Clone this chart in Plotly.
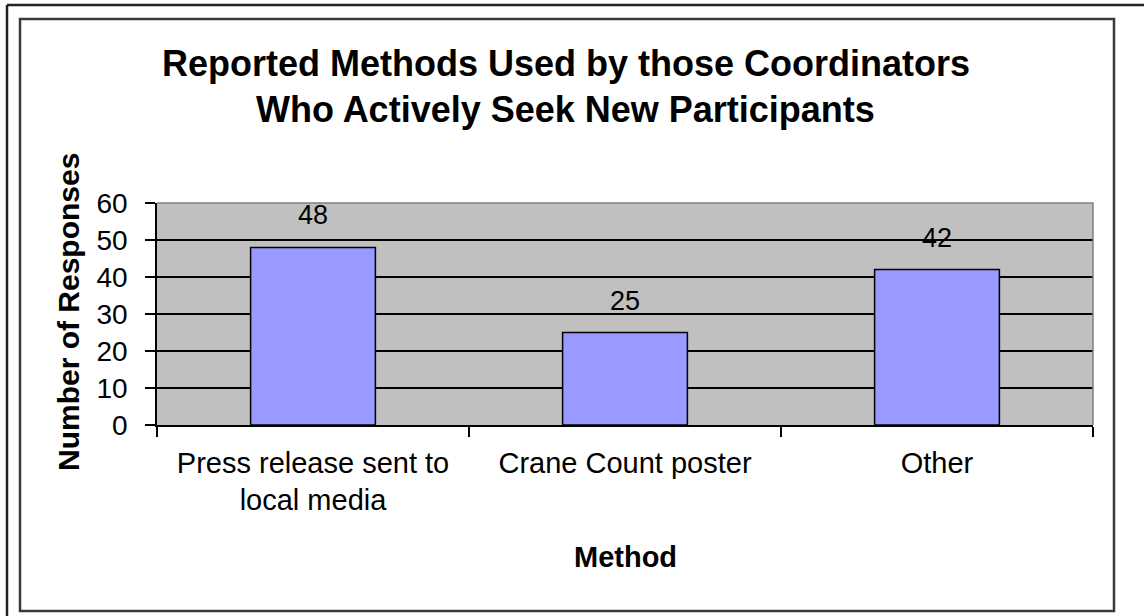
import plotly.graph_objects as go

# Survey results: methods coordinators use to recruit new participants
methods = ["Press release sent to<br>local media", "Crane Count poster", "Other"]
responses = [48, 25, 42]
y_ticks = [0, 10, 20, 30, 40, 50, 60]

W, H = 1144, 616
L, R, T, B = 157, 1093, 203, 425  # plot-area pixel box


def px_x(px):
    return (px - L) / (R - L)


def px_y(py):
    return (B - py) / (B - T)


FONT = "Liberation Sans, Arial, sans-serif"

fig = go.Figure()
fig.add_trace(go.Bar(
    x=methods,
    y=responses,
    width=0.4,
    marker=dict(color="#9999FF", line=dict(color="#000000", width=1.5)),
    hoverinfo="x+y",
    showlegend=False,
))

# value labels above each bar
for m, v in zip(methods, responses):
    fig.add_annotation(x=m, y=v, text=str(v), showarrow=False, yshift=32,
                       xanchor="center", yanchor="middle",
                       font=dict(family=FONT, size=27, color="#000000"))


def paper_text(x, y, text, size, angle=0):
    fig.add_annotation(xref="paper", yref="paper", x=px_x(x), y=px_y(y),
                       text=text, showarrow=False, textangle=angle,
                       xanchor="center", yanchor="middle",
                       font=dict(family=FONT, size=size, color="#000000"))


# two-line chart title
paper_text(566, 63, "<b>Reported Methods Used by those Coordinators</b>", 36)
paper_text(565, 109, "<b>Who Actively Seek New Participants</b>", 36)

# axis titles
paper_text(625, 557, "<b>Method</b>", 29)
paper_text(68, 312, "<b>Number of Responses</b>", 30, angle=-90)

shapes = [
    # gray border on the top and right of the plot area
    dict(type="path", xref="paper", yref="paper",
         path="M 0 1 L 1 1 L 1 0", line=dict(color="#808080", width=1.5)),
    # chart frame
    dict(type="rect", xref="paper", yref="paper",
         x0=px_x(20), x1=px_x(1114), y0=px_y(611), y1=px_y(19),
         line=dict(color="#3a3a3a", width=2.5)),
    # outer page edge lines
    dict(type="line", xref="paper", yref="paper",
         x0=px_x(7), x1=px_x(1146), y0=px_y(5), y1=px_y(5),
         line=dict(color="#222222", width=2.5)),
    dict(type="line", xref="paper", yref="paper",
         x0=px_x(7), x1=px_x(7), y0=px_y(5), y1=px_y(620),
         line=dict(color="#222222", width=2.5)),
]

fig.update_layout(
    width=W, height=H,
    margin=dict(l=L, r=W - R, t=T, b=H - B, autoexpand=False),
    paper_bgcolor="#FFFFFF",
    plot_bgcolor="#C0C0C0",
    bargap=0.6,
    shapes=shapes,
    font=dict(family=FONT, color="#000000"),
    xaxis=dict(
        type="category",
        showline=True, linecolor="#000000", linewidth=1.5,
        ticks="outside", tickson="boundaries", ticklen=10, tickwidth=1.5, tickcolor="#000000",
        tickfont=dict(family=FONT, size=29, color="#000000"),
        ticklabelstandoff=11,
        showgrid=False, zeroline=False, fixedrange=True,
    ),
    yaxis=dict(
        range=[0, 60], tickvals=y_ticks,
        showline=True, linecolor="#000000", linewidth=1.5,
        ticks="outside", ticklen=10, tickwidth=1.5, tickcolor="#000000",
        tickfont=dict(family=FONT, size=28, color="#000000"),
        ticklabelstandoff=12,
        showgrid=True, gridcolor="#000000", gridwidth=1.5,
        zeroline=False, fixedrange=True,
    ),
)

fig.write_html("out.html")
